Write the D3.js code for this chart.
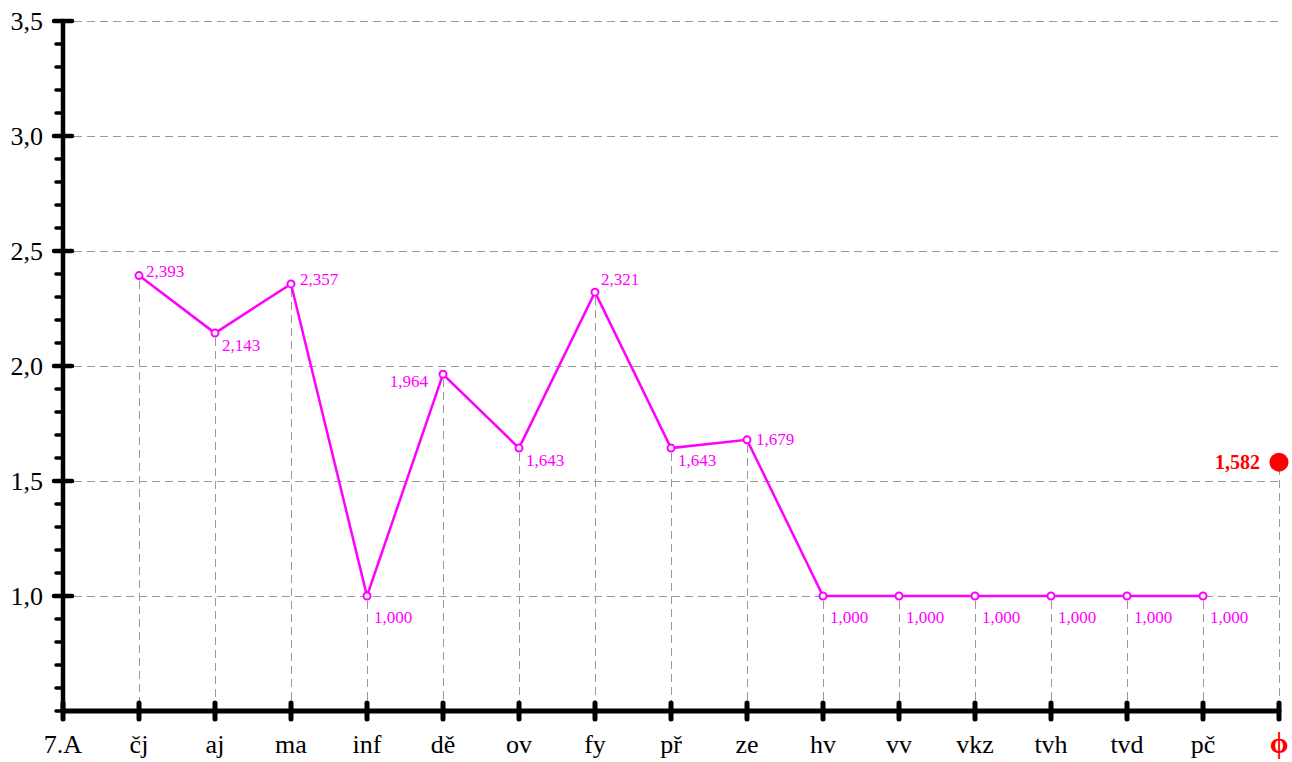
<!DOCTYPE html>
<html>
<head>
<meta charset="utf-8">
<script src="https://cdn.jsdelivr.net/npm/d3@7"></script>
<style>
  body { margin: 0; background: #fff; }
  svg { display: block; font-family: "Liberation Serif", "Times New Roman", serif; }
</style>
</head>
<body>
<div id="chart"></div>
<script>
// Data
const className = "7.A";
const subjects = ["čj", "aj", "ma", "inf", "dě", "ov", "fy", "př", "ze", "hv", "vv", "vkz", "tvh", "tvd", "pč"];
const averages = [2.393, 2.143, 2.357, 1.000, 1.964, 1.643, 2.321, 1.643, 1.679, 1.000, 1.000, 1.000, 1.000, 1.000, 1.000];
const overallLabel = "ϕ";
const overallAverage = 1.582;
const yMajorTicks = [1.0, 1.5, 2.0, 2.5, 3.0, 3.5];

const width = 1292;
const height = 762;
const fmt = v => d3.format(".3f")(v).replace(".", ",");
const fmtTick = v => d3.format(".1f")(v).replace(".", ",");

const svg = d3.select('#chart')
    .append('svg')
    .attr('width', width)
    .attr('height', height);

// Scales
const x = d3.scalePoint()
    .domain([className, ...subjects, overallLabel])
    .range([63, 1279]);

const y = d3.scaleLinear()
    .domain([0.5, 3.5])
    .range([711, 21]);

const points = subjects.map((s, i) => ({ subject: s, value: averages[i] }));

// Horizontal dashed grid
svg.append('g')
    .selectAll('line')
    .data(yMajorTicks)
    .enter()
    .append('line')
    .attr('x1', x(className) + 11)
    .attr('x2', x(overallLabel))
    .attr('y1', d => y(d))
    .attr('y2', d => y(d))
    .attr('stroke', '#999')
    .attr('stroke-width', 1)
    .attr('shape-rendering', 'crispEdges')
    .attr('stroke-dasharray', '8,5');

// Vertical drop lines
const drops = points.map(p => ({ key: p.subject, value: p.value }))
    .concat([{ key: overallLabel, value: overallAverage }]);

svg.append('g')
    .selectAll('line')
    .data(drops)
    .enter()
    .append('line')
    .attr('x1', d => x(d.key))
    .attr('x2', d => x(d.key))
    .attr('y1', d => y(d.value) + 5)
    .attr('y2', y(0.5))
    .attr('stroke', '#999')
    .attr('stroke-width', 1)
    .attr('shape-rendering', 'crispEdges')
    .attr('stroke-dasharray', '8,5');

// Y axis (minor + major ticks)
const yAxisG = svg.append('g');
yAxisG.selectAll('line.minor')
    .data(d3.range(5, 36).map(d => d / 10))
    .enter()
    .append('line')
    .attr('class', 'minor')
    .attr('x1', x(className) - 7)
    .attr('x2', x(className))
    .attr('y1', d => y(d))
    .attr('y2', d => y(d))
    .attr('stroke', '#000')
    .attr('stroke-width', 3.5)
    .attr('stroke-linecap', 'round');

yAxisG.selectAll('line.major')
    .data(yMajorTicks)
    .enter()
    .append('line')
    .attr('class', 'major')
    .attr('x1', x(className) - 9)
    .attr('x2', x(className) + 9)
    .attr('y1', d => y(d))
    .attr('y2', d => y(d))
    .attr('stroke', '#000')
    .attr('stroke-width', 4.5)
    .attr('stroke-linecap', 'round');

yAxisG.selectAll('text')
    .data(yMajorTicks)
    .enter()
    .append('text')
    .attr('x', x(className) - 20)
    .attr('y', d => y(d) + 9)
    .attr('text-anchor', 'end')
    .attr('font-size', '26px')
    .attr('fill', '#000')
    .text(fmtTick);

yAxisG.append('line')
    .attr('x1', x(className))
    .attr('x2', x(className))
    .attr('y1', y(3.5))
    .attr('y2', y(0.5))
    .attr('stroke', '#000')
    .attr('stroke-width', 4.5)
    .attr('stroke-linecap', 'round');

// X axis
const xAxisG = svg.append('g');
xAxisG.append('line')
    .attr('x1', x(className))
    .attr('x2', x(overallLabel))
    .attr('y1', y(0.5))
    .attr('y2', y(0.5))
    .attr('stroke', '#000')
    .attr('stroke-width', 5)
    .attr('stroke-linecap', 'round');

xAxisG.selectAll('line.tick')
    .data(x.domain())
    .enter()
    .append('line')
    .attr('class', 'tick')
    .attr('x1', d => x(d))
    .attr('x2', d => x(d))
    .attr('y1', y(0.5) - 8)
    .attr('y2', y(0.5) + 8)
    .attr('stroke', '#000')
    .attr('stroke-width', 5)
    .attr('stroke-linecap', 'round');

xAxisG.selectAll('text')
    .data(x.domain())
    .enter()
    .append('text')
    .attr('x', d => x(d))
    .attr('y', 753)
    .attr('text-anchor', 'middle')
    .attr('font-size', d => d === overallLabel ? '30px' : '26px')
    .attr('font-weight', d => d === overallLabel ? 'bold' : 'normal')
    .attr('fill', d => d === overallLabel ? '#ff0000' : '#000')
    .text(d => d);

// Line
const line = d3.line()
    .x(d => x(d.subject))
    .y(d => y(d.value));

svg.append('path')
    .datum(points)
    .attr('d', line)
    .attr('fill', 'none')
    .attr('stroke', '#ff00ff')
    .attr('stroke-width', 2.5);

svg.append('g')
    .selectAll('circle')
    .data(points)
    .enter()
    .append('circle')
    .attr('cx', d => x(d.subject))
    .attr('cy', d => y(d.value))
    .attr('r', 3.5)
    .attr('fill', '#fff')
    .attr('stroke', '#ff00ff')
    .attr('stroke-width', 2);

// Value labels (placed to stay clear of the line)
const labelOffset = {
    'čj': [7, 1, 'start'],
    'ma': [9, 1, 'start'],
    'dě': [-15, 13, 'end'],
    'fy': [6, -7, 'start'],
    'ze': [9, 5, 'start']
};
svg.append('g')
    .selectAll('text')
    .data(points)
    .enter()
    .append('text')
    .attr('x', d => x(d.subject) + (labelOffset[d.subject] || [7, 0])[0])
    .attr('y', d => {
        if (labelOffset[d.subject]) return y(d.value) + labelOffset[d.subject][1];
        return y(d.value) + (d.value === 1 ? 27 : 18);
    })
    .attr('text-anchor', d => (labelOffset[d.subject] || [0, 0, 'start'])[2])
    .attr('font-size', '17px')
    .attr('fill', '#ff00ff')
    .text(d => fmt(d.value));

// Overall average
svg.append('circle')
    .attr('cx', x(overallLabel))
    .attr('cy', y(overallAverage))
    .attr('r', 9.5)
    .attr('fill', '#ff0000');

svg.append('text')
    .attr('x', x(overallLabel) - 19)
    .attr('y', y(overallAverage) + 7)
    .attr('text-anchor', 'end')
    .attr('font-size', '20px')
    .attr('font-weight', 'bold')
    .attr('fill', '#ff0000')
    .text(fmt(overallAverage));
</script>
</body>
</html>
